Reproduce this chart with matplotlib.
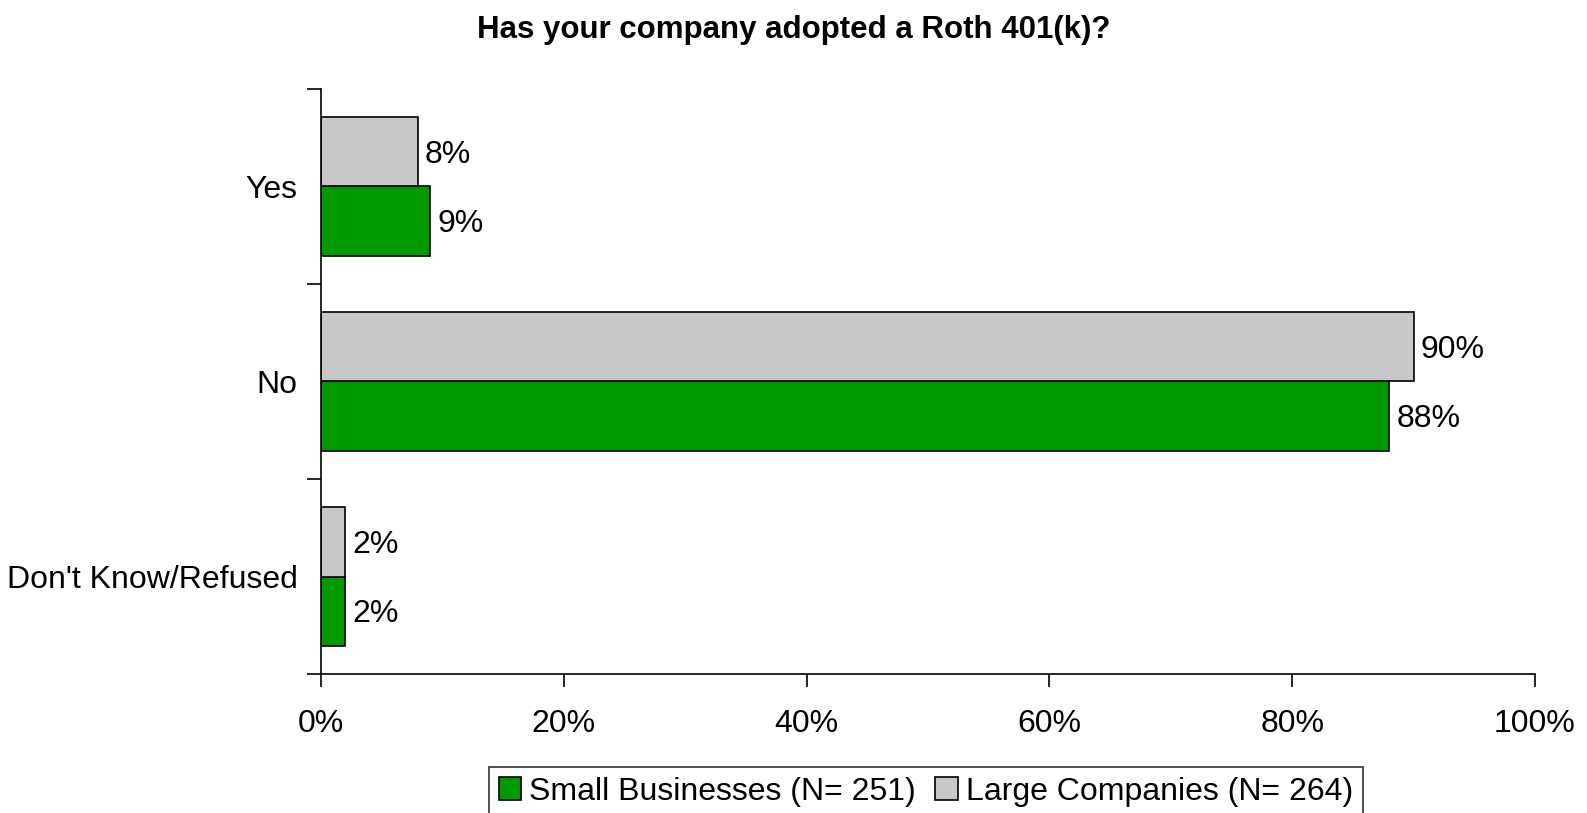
import matplotlib
matplotlib.use("Agg")
import matplotlib.pyplot as plt
import numpy as np

plt.rcParams['font.family'] = ['Liberation Sans', 'DejaVu Sans']

categories = ["Yes", "No", "Don't Know/Refused"]
small_businesses = [9, 88, 2]
large_companies = [8, 90, 2]
series_labels = ["Small Businesses (N= 251)", "Large Companies (N= 264)"]
xtick_values = [0, 20, 40, 60, 80, 100]
xtick_labels = ["0%", "20%", "40%", "60%", "80%", "100%"]

green = "#009900"
gray = "#c8c8c8"
fs = 23

fig = plt.figure(figsize=(15.87, 8.13), dpi=100)
ax = fig.add_axes([321 / 1587, 1 - 674 / 813, (1535 - 321) / 1587, (674 - 89) / 813])

y = np.arange(len(categories))
h = 0.354
bars_small = ax.barh(y + h / 2, small_businesses, height=h, color=green,
                     edgecolor="black", linewidth=1.2, label=series_labels[0])
bars_large = ax.barh(y - h / 2, large_companies, height=h, color=gray,
                     edgecolor="black", linewidth=1.2, label=series_labels[1])

for bars, vals in ((bars_small, small_businesses), (bars_large, large_companies)):
    for b, v in zip(bars, vals):
        ax.annotate(f"{v}%", (v, b.get_y() + b.get_height() / 2),
                    xytext=(5, -2.5), textcoords="offset points",
                    va="center", ha="left", fontsize=fs)

ax.set_xlim(0, 100)
ax.set_ylim(2.5, -0.5)
ax.set_yticks(y)
ax.set_yticklabels(categories, fontsize=fs)
ax.set_yticks([-0.5, 0.5, 1.5, 2.5], minor=True)
ax.tick_params(axis="y", which="major", length=0, pad=17)
ax.tick_params(axis="y", which="minor", length=10, width=1.2)
ax.set_xticks(xtick_values)
ax.set_xticklabels(xtick_labels, fontsize=fs)
ax.tick_params(axis="x", length=9, width=1.2, pad=16)

for s in ("top", "right"):
    ax.spines[s].set_visible(False)
for s in ("left", "bottom"):
    ax.spines[s].set_linewidth(1.2)
ax.spines["left"].set_bounds(2.5, -0.5)

fig.text(0.5, 1 - 30 / 813, "Has your company adopted a Roth 401(k)?",
         ha="center", va="center", fontsize=22.5, fontweight="bold")

handles = [bars_small, bars_large]
leg = fig.legend(handles, series_labels, loc="upper center",
                 bbox_to_anchor=(926 / 1587, 1 - 767 / 813), ncol=2,
                 fontsize=fs, frameon=True, fancybox=False, edgecolor="black",
                 handlelength=0.7, handleheight=0.7, handletextpad=0.25,
                 columnspacing=0.6, borderpad=0.3, borderaxespad=0)
leg.get_frame().set_linewidth(1.2)

fig.savefig("out.png", dpi=100)
